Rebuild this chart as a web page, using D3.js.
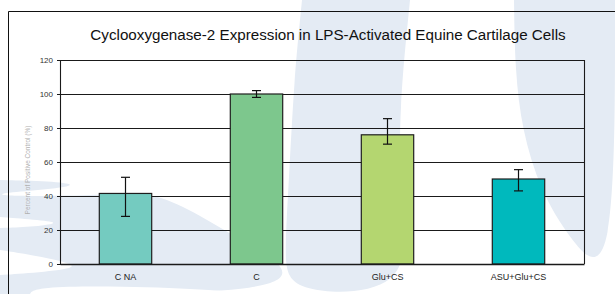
<!DOCTYPE html>
<html>
<head>
<meta charset="utf-8">
<script src="https://cdn.jsdelivr.net/npm/d3@7"></script>
<style>
  body { margin: 0; background: #fff; }
  svg { display: block; font-family: "Liberation Sans", Arial, sans-serif; }
</style>
</head>
<body>
<div id="chart"></div>
<script>
const categories = ["C NA", "C", "Glu+CS", "ASU+Glu+CS"];
const means = [41.5, 100, 76, 50];
const errLow = [28, 98, 70.5, 43];
const errHigh = [51, 102, 85.5, 55.5];
const barColors = ["#74cbc0", "#7dc78d", "#b4d670", "#00b9bd"];
const yTicks = [0, 20, 40, 60, 80, 100, 120];

const W = 615, H = 294;
const margin = { top: 60, right: 31, bottom: 30, left: 60 },
      width  = W - margin.left - margin.right,
      height = H - margin.top - margin.bottom;

const root = d3.select("#chart").append("svg")
    .attr("width", W)
    .attr("height", H);

// faint background logo shapes
const wm = "#e4ebf4";
const bg = root.append("g");
const line = d3.line().curve(d3.curveBasis);
bg.append("path").attr("fill", wm)
  .attr("d", line([[302,0],[294,80],[289,180],[284,260],[290,294],[413,294],[400,200],[399,110],[410,0]]) + "Z");
bg.append("path").attr("fill", wm)
  .attr("d", line([[514,0],[515,70],[522,130],[540,190],[570,240],[615,288],[615,0]]) + "Z");
bg.append("path").attr("fill", wm)
  .attr("d", line([[0,180],[50,181],[82,185],[40,190],[0,193],[0,196],[60,196],[120,194],[155,193],[200,215],[240,240],[284,262],[290,294],[0,294]]) + "Z");
bg.append("path").attr("fill", "#fff")
  .attr("d", line([[0,217],[40,220],[62,223],[30,227],[0,228]]) + "Z");
bg.append("path").attr("fill", "#fff")
  .attr("d", line([[0,250],[50,258],[84,267],[45,272],[0,275]]) + "Z");
bg.append("path").attr("fill", "#fff")
  .attr("d", line([[30,294],[35,287],[120,286],[220,290],[250,294]]) + "Z");

// outer frame
root.append("path")
    .attr("d", `M8.5,${H}V11.5H${W}`)
    .attr("fill", "none")
    .attr("stroke", "#111")
    .attr("stroke-width", 1);

// title
root.append("text")
    .attr("x", 328)
    .attr("y", 39.5)
    .attr("text-anchor", "middle")
    .style("font-size", "15.2px")
    .style("fill", "#111")
    .text("Cyclooxygenase-2 Expression in LPS-Activated Equine Cartilage Cells");

// y axis label (tiny, faint)
root.append("text")
    .attr("transform", `translate(30,${margin.top + height / 2 + 8}) rotate(-90)`)
    .attr("text-anchor", "middle")
    .style("font-size", "6.5px")
    .style("fill", "#b0b0b0")
    .text("Percent of Positive Control (%)");

const svg = root.append("g")
    .attr("transform", `translate(${margin.left},${margin.top})`);

const x = d3.scaleBand().domain(categories).range([0, width]).paddingInner(0.6).paddingOuter(0.3);
const y = d3.scaleLinear().domain([0, 120]).range([height, 0]);

// gridlines
svg.append("g")
   .selectAll("line")
   .data(yTicks.filter(d => d > 0))
   .enter().append("line")
   .attr("x1", 0).attr("x2", width)
   .attr("y1", d => Math.round(y(d)) + 0.5)
   .attr("y2", d => Math.round(y(d)) + 0.5)
   .attr("stroke", "#1a1a1a")
   .attr("stroke-width", 1.1);

// right border
svg.append("line")
   .attr("x1", width + 0.5).attr("x2", width + 0.5)
   .attr("y1", y(120)).attr("y2", y(0))
   .attr("stroke", "#1a1a1a")
   .attr("stroke-width", 1.1);

// bars
svg.selectAll(".bar")
   .data(categories)
   .enter().append("rect")
   .attr("class", "bar")
   .attr("x", d => x(d))
   .attr("y", (d, i) => y(means[i]))
   .attr("width", x.bandwidth())
   .attr("height", (d, i) => height - y(means[i]))
   .attr("fill", (d, i) => barColors[i])
   .attr("stroke", "#1e1e1e")
   .attr("stroke-width", 1.2);

// error bars
const eb = svg.selectAll(".err")
   .data(categories)
   .enter().append("g")
   .attr("class", "err")
   .attr("stroke", "#111")
   .attr("stroke-width", 1.2);
eb.append("line")
   .attr("x1", d => x(d) + x.bandwidth() / 2)
   .attr("x2", d => x(d) + x.bandwidth() / 2)
   .attr("y1", (d, i) => y(errLow[i]))
   .attr("y2", (d, i) => y(errHigh[i]));
eb.append("line")
   .attr("x1", d => x(d) + x.bandwidth() / 2 - 4.5)
   .attr("x2", d => x(d) + x.bandwidth() / 2 + 4.5)
   .attr("y1", (d, i) => y(errHigh[i]))
   .attr("y2", (d, i) => y(errHigh[i]));
eb.append("line")
   .attr("x1", d => x(d) + x.bandwidth() / 2 - 4.5)
   .attr("x2", d => x(d) + x.bandwidth() / 2 + 4.5)
   .attr("y1", (d, i) => y(errLow[i]))
   .attr("y2", (d, i) => y(errLow[i]));

// Y axis
const yAxis = svg.append("g")
   .call(d3.axisLeft(y).tickValues(yTicks).tickSize(3).tickPadding(4));
yAxis.select(".domain").attr("stroke", "#1a1a1a").attr("stroke-width", 1.1);
yAxis.selectAll(".tick line").attr("stroke", "#1a1a1a");
yAxis.selectAll("text")
   .style("font-size", "8px")
   .style("fill", "#333")
   .style("font-family", "'Liberation Sans', Arial, sans-serif");

// X axis
const xAxis = svg.append("g")
   .attr("transform", `translate(0,${height})`)
   .call(d3.axisBottom(x).tickSize(0).tickPadding(9.5));
xAxis.select(".domain").attr("stroke", "#1a1a1a").attr("stroke-width", 1.3);
xAxis.selectAll("text")
   .style("font-size", "9px")
   .style("fill", "#222")
   .style("font-family", "'Liberation Sans', Arial, sans-serif");
</script>
</body>
</html>
